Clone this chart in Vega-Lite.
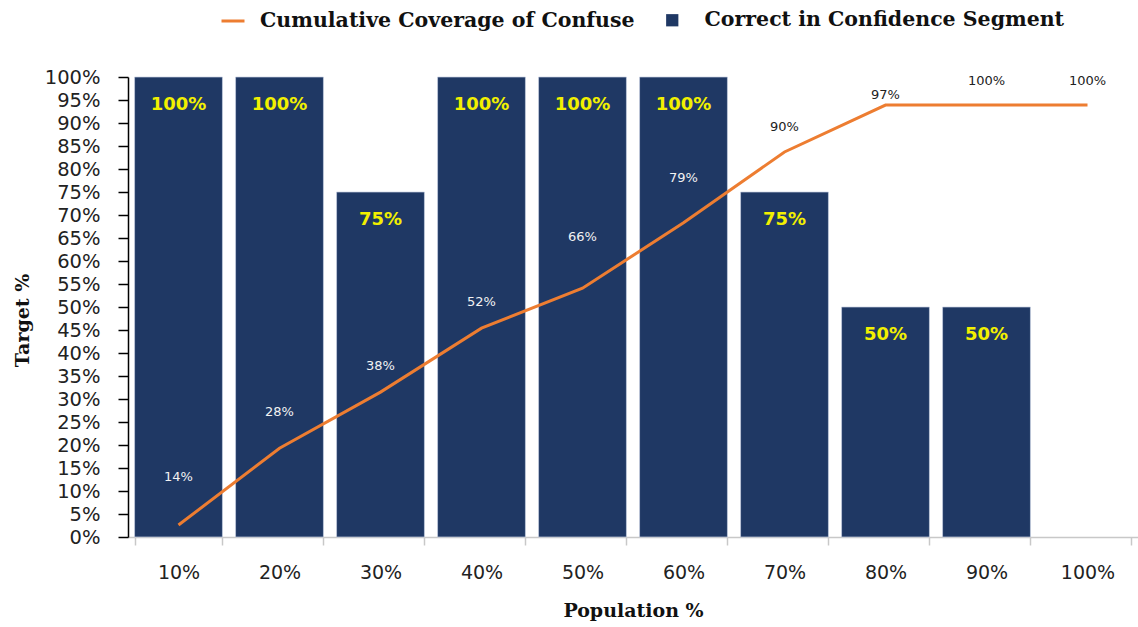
{
  "$schema": "https://vega.github.io/schema/vega-lite/v6.json",
  "width": 1010,
  "height": 460,
  "autosize": {"type": "none"},
  "padding": {"left": 128, "top": 77, "right": 0, "bottom": 90},
  "config": {
    "view": {"stroke": null},
    "axisY": {
      "labelOverlap": false,
      "labelFont": "DejaVu Sans",
      "labelFontSize": 19.5,
      "labelColor": "#222222",
      "labelPadding": 18,
      "domainColor": "#000000",
      "domainWidth": 1.5,
      "tickColor": "#000000",
      "tickWidth": 1.5,
      "tickSize": 10,
      "grid": false,
      "titleFont": "DejaVu Serif",
      "titleFontWeight": "bold",
      "titleFontSize": 19,
      "titleColor": "#111111",
      "titleX": -106,
      "titleY": 243,
      "titleAngle": 270,
      "titleAlign": "center",
      "titleBaseline": "middle"
    }
  },
  "data": {
    "values": [
      {"pop": "10%", "correct": 1.0, "coverage": 0.14, "line": 0.026},
      {"pop": "20%", "correct": 1.0, "coverage": 0.28, "line": 0.193},
      {"pop": "30%", "correct": 0.75, "coverage": 0.38, "line": 0.315},
      {"pop": "40%", "correct": 1.0, "coverage": 0.52, "line": 0.454},
      {"pop": "50%", "correct": 1.0, "coverage": 0.66, "line": 0.541},
      {"pop": "60%", "correct": 1.0, "coverage": 0.79, "line": 0.683},
      {"pop": "70%", "correct": 0.75, "coverage": 0.90, "line": 0.837},
      {"pop": "80%", "correct": 0.5, "coverage": 0.97, "line": 0.939},
      {"pop": "90%", "correct": 0.5, "coverage": 1.0, "line": 0.939},
      {"pop": "100%", "correct": 0, "coverage": 1.0, "line": 0.939}
    ]
  },
  "encoding": {
    "x": {
      "field": "pop",
      "type": "ordinal",
      "sort": null,
      "scale": {"paddingInner": 0.13, "paddingOuter": 0.065},
      "axis": {
        "title": "Population %",
        "titleFont": "DejaVu Serif",
        "titleFontWeight": "bold",
        "titleFontSize": 19,
        "titleColor": "#111111",
        "titleY": 73,
        "titleBaseline": "middle",
        "labelAngle": 0,
        "labelFont": "DejaVu Sans",
        "labelFontSize": 19,
        "labelColor": "#222222",
        "labelPadding": 18,
        "domainColor": "#c8c8c8",
        "domainWidth": 1.5,
        "tickColor": "#c8c8c8",
        "tickWidth": 1.5,
        "tickSize": 8,
        "tickBand": "extent",
        "grid": false
      }
    }
  },
  "layer": [
    {
      "transform": [{"filter": "datum.correct > 0"}],
      "mark": {"type": "bar", "stroke": "#c9d1e3", "strokeWidth": 0.7},
      "encoding": {
        "y": {
          "field": "correct",
          "type": "quantitative",
          "title": "Target %",
          "scale": {"domain": [0, 1]},
          "axis": {"values": [0, 0.05, 0.1, 0.15, 0.2, 0.25, 0.3, 0.35, 0.4, 0.45, 0.5, 0.55, 0.6, 0.65, 0.7, 0.75, 0.8, 0.85, 0.9, 0.95, 1.0], "format": ".0%"}
        },
        "fill": {
          "datum": "Correct in Confidence Segment",
          "scale": {"range": ["#1F3864"]},
          "legend": {
            "orient": "none",
            "legendX": 534,
            "legendY": -67,
            "title": null,
            "padding": 0,
            "symbolType": "square",
            "symbolSize": 150,
            "symbolStrokeWidth": 0,
            "labelFont": "DejaVu Serif",
            "labelFontWeight": "bold",
            "labelFontSize": 20.5,
            "labelColor": "#111111",
            "labelOffset": 22,
            "labelLimit": 0
          }
        }
      }
    },
    {
      "mark": {"type": "line", "strokeWidth": 3},
      "encoding": {
        "y": {
          "field": "line",
          "type": "quantitative",
          "title": "Target %",
          "axis": {"values": [0, 0.05, 0.1, 0.15, 0.2, 0.25, 0.3, 0.35, 0.4, 0.45, 0.5, 0.55, 0.6, 0.65, 0.7, 0.75, 0.8, 0.85, 0.9, 0.95, 1.0], "format": ".0%"}
        },
        "stroke": {
          "datum": "Cumulative Coverage of Confuse",
          "scale": {"range": ["#ED7D31"]},
          "legend": {
            "orient": "none",
            "legendX": 92,
            "legendY": -69,
            "title": null,
            "padding": 0,
            "symbolType": "stroke",
            "symbolSize": 529,
            "symbolStrokeWidth": 3,
            "labelFont": "DejaVu Serif",
            "labelFontWeight": "bold",
            "labelFontSize": 20.5,
            "labelColor": "#111111",
            "labelOffset": 14,
            "labelLimit": 0
          }
        }
      }
    },
    {
      "mark": {"type": "text", "font": "DejaVu Sans", "fontSize": 13, "baseline": "middle", "align": "center", "dy": 4},
      "encoding": {
        "y": {
          "field": "coverage",
          "type": "quantitative",
          "title": "Target %",
          "axis": {"values": [0, 0.05, 0.1, 0.15, 0.2, 0.25, 0.3, 0.35, 0.4, 0.45, 0.5, 0.55, 0.6, 0.65, 0.7, 0.75, 0.8, 0.85, 0.9, 0.95, 1.0], "format": ".0%"}
        },
        "text": {"field": "coverage", "type": "quantitative", "format": ".0%"},
        "color": {
          "condition": {"test": "datum.coverage < datum.correct", "value": "#f2f2f2"},
          "value": "#222222"
        }
      }
    },
    {
      "transform": [{"filter": "datum.correct > 0"}],
      "mark": {"type": "text", "font": "DejaVu Sans", "fontSize": 18, "fontWeight": "bold", "baseline": "middle", "align": "center", "dy": 28, "color": "#F2F000"},
      "encoding": {
        "y": {
          "field": "correct",
          "type": "quantitative",
          "title": "Target %",
          "axis": {"values": [0, 0.05, 0.1, 0.15, 0.2, 0.25, 0.3, 0.35, 0.4, 0.45, 0.5, 0.55, 0.6, 0.65, 0.7, 0.75, 0.8, 0.85, 0.9, 0.95, 1.0], "format": ".0%"}
        },
        "text": {"field": "correct", "type": "quantitative", "format": ".0%"}
      }
    }
  ]
}
